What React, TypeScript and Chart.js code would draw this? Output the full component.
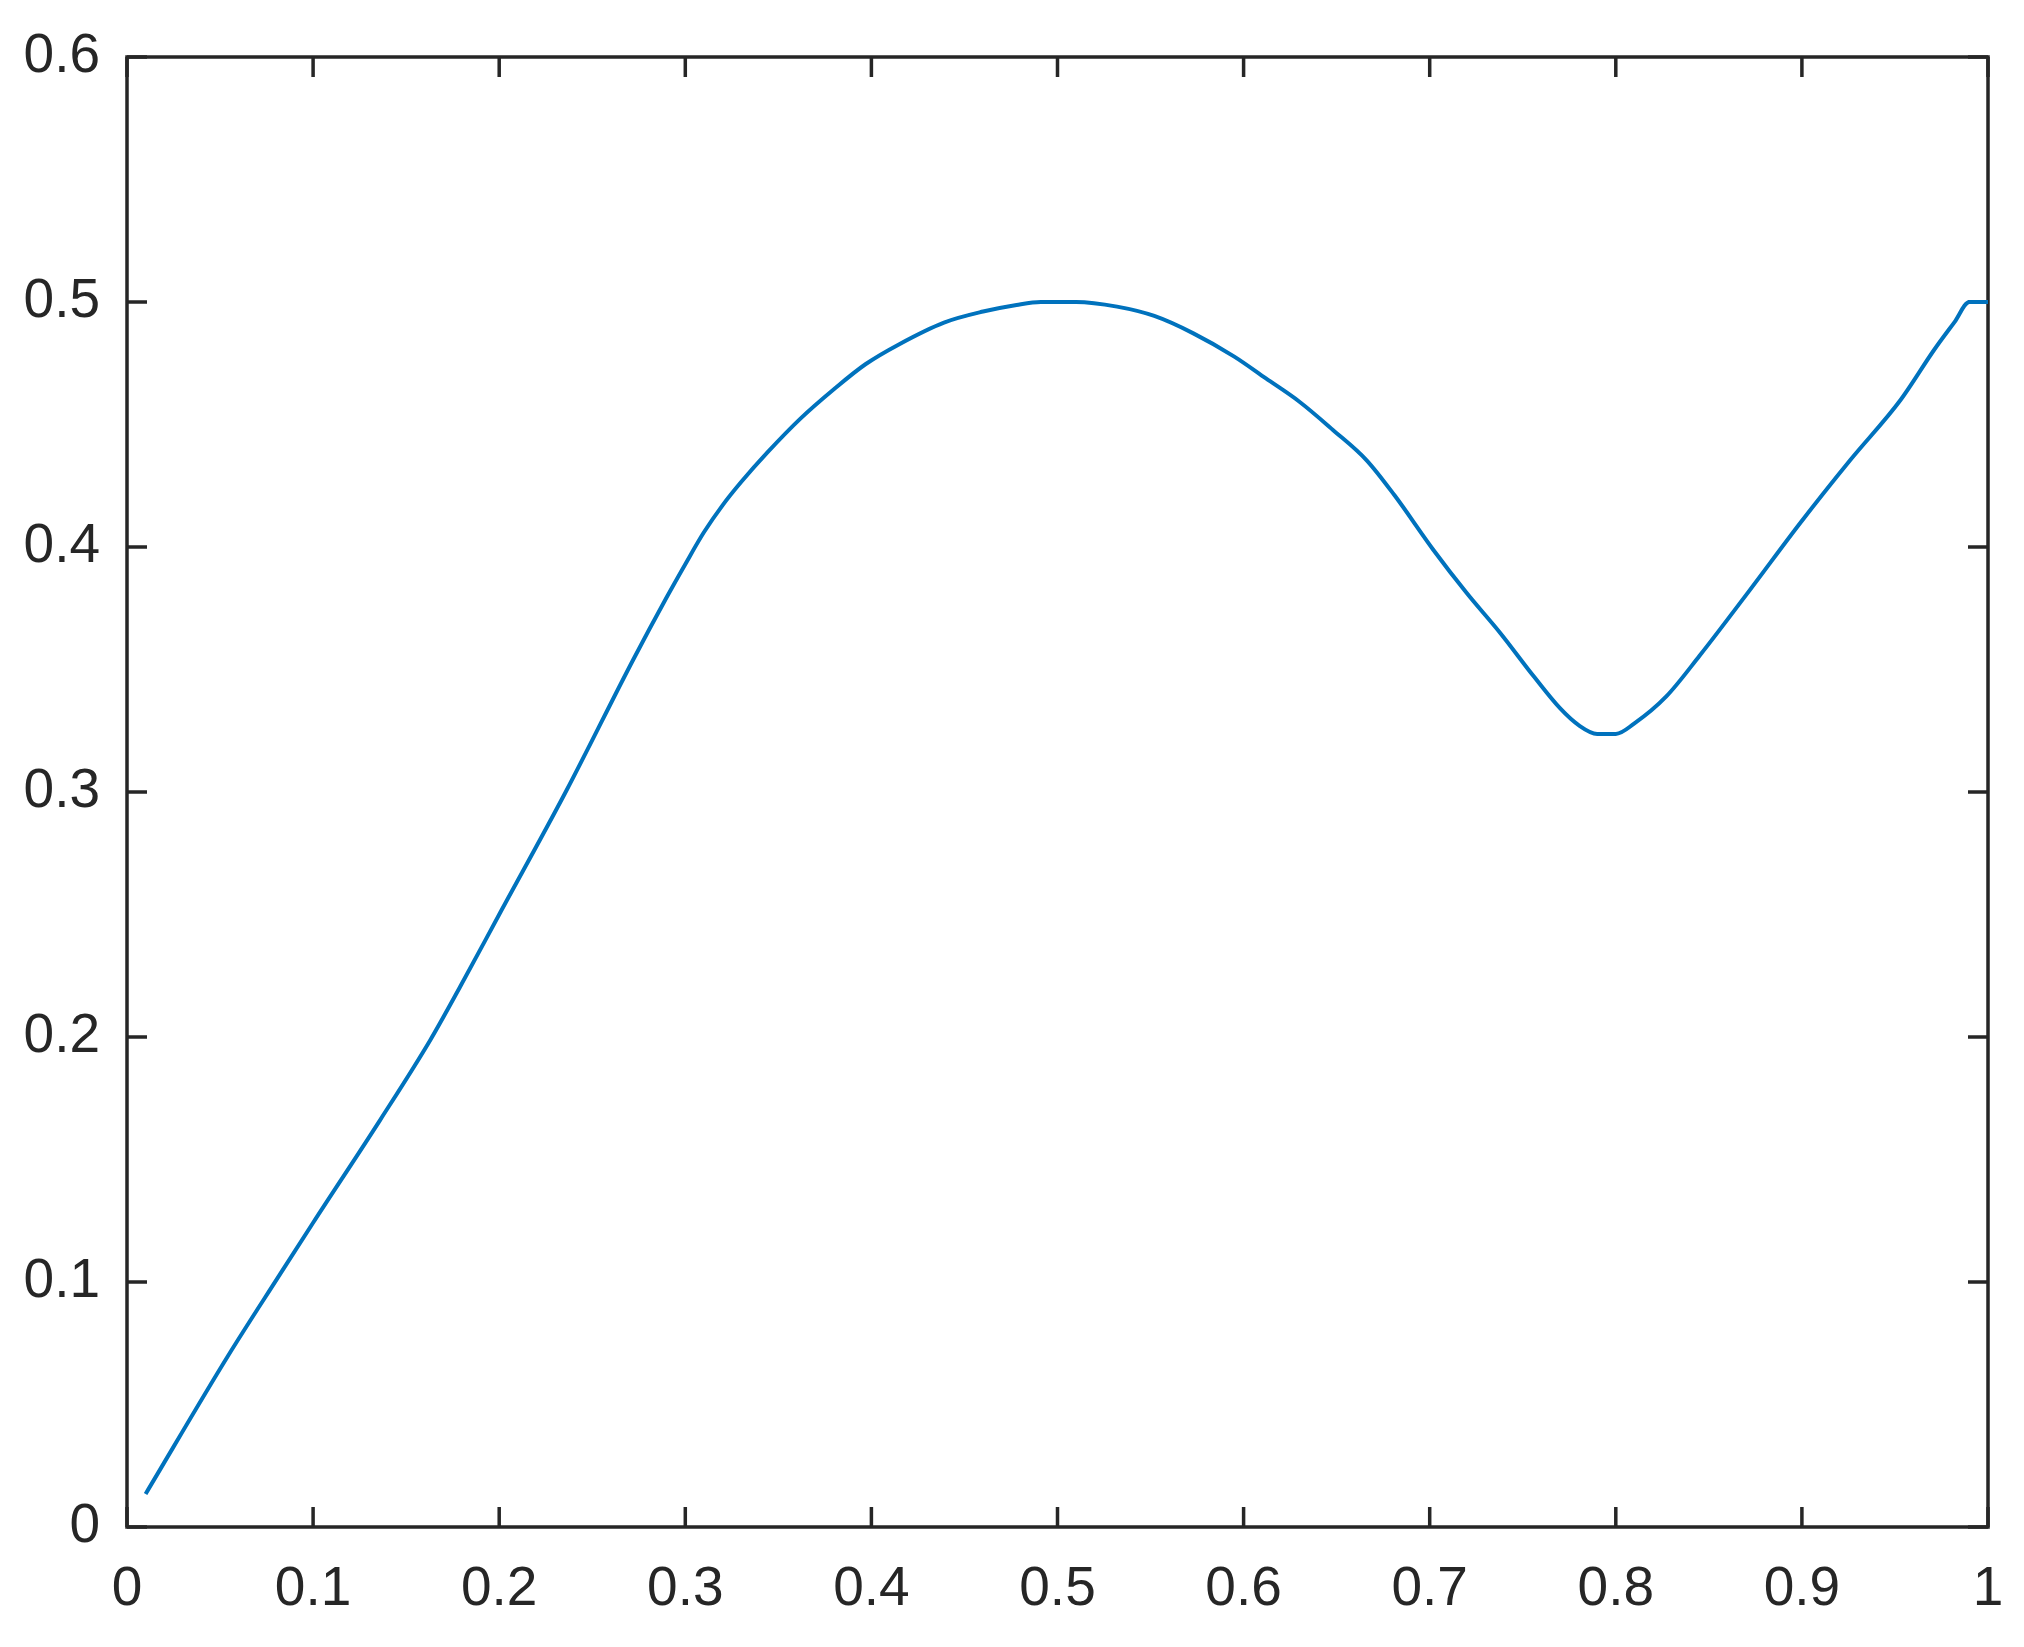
import React, { useEffect, useRef } from "react";
import { Chart, registerables } from "chart.js";

Chart.register(...registerables);

// Data
const xValues = [
  0.01, 0.054, 0.082, 0.1, 0.136, 0.163, 0.179, 0.2, 0.236, 0.272, 0.29, 0.3,
  0.31, 0.32, 0.33, 0.344, 0.362, 0.38, 0.397, 0.415, 0.439, 0.46, 0.478,
  0.491, 0.51, 0.532, 0.552, 0.573, 0.595, 0.612, 0.63, 0.648, 0.666, 0.681,
  0.702, 0.72, 0.738, 0.756, 0.77, 0.78, 0.79, 0.8, 0.81, 0.827, 0.845, 0.872,
  0.899, 0.926, 0.953, 0.971, 0.982, 0.99, 1.0,
];
const yValues = [
  0.0135, 0.0695, 0.1029, 0.1242, 0.1661, 0.1988, 0.2205, 0.25, 0.3004,
  0.354, 0.3795, 0.393, 0.406, 0.417, 0.4265, 0.4385, 0.4525, 0.4645, 0.4747,
  0.4828, 0.4916, 0.4961, 0.4988, 0.5, 0.5, 0.4981, 0.4943, 0.4872, 0.4777,
  0.4688, 0.4593, 0.4478, 0.4355, 0.4212, 0.3988, 0.3811, 0.3648, 0.3471,
  0.3342, 0.3273, 0.3237, 0.3237, 0.328, 0.3389, 0.3556, 0.3824, 0.4097,
  0.4355, 0.46, 0.4804, 0.4918, 0.5, 0.5,
];

const xAxisRange = [0, 1];
const yAxisRange = [0, 0.6];
const xTickStep = 0.1;
const yTickStep = 0.1;

const LINE_COLOR = "#0072BD";
const AXIS_COLOR = "#262626";
const FONT_FAMILY = "'Liberation Sans', Arial, Helvetica, sans-serif";

const framePlugin = {
  id: "matlabFrame",
  beforeDatasetsDraw(chart: any) {
    const { ctx, chartArea } = chart;
    const { left, right, top, bottom } = chartArea;
    const xs = chart.scales.x;
    const ys = chart.scales.y;
    const tickLen = 20;
    ctx.save();
    ctx.strokeStyle = AXIS_COLOR;
    ctx.lineWidth = 3.5;
    ctx.beginPath();
    xs.ticks.forEach((t: any) => {
      const px = xs.getPixelForValue(t.value);
      ctx.moveTo(px, bottom);
      ctx.lineTo(px, bottom - tickLen);
      ctx.moveTo(px, top);
      ctx.lineTo(px, top + tickLen);
    });
    ys.ticks.forEach((t: any) => {
      const py = ys.getPixelForValue(t.value);
      ctx.moveTo(left, py);
      ctx.lineTo(left + tickLen, py);
      ctx.moveTo(right, py);
      ctx.lineTo(right - tickLen, py);
    });
    ctx.stroke();
    ctx.lineJoin = "miter";
    ctx.strokeRect(left, top, right - left, bottom - top);
    ctx.restore();
  },
};

const fmt = (v: number) => String(Number(Number(v).toFixed(1)));

const clearPadding = (scale: any) => {
  scale.paddingLeft = 0;
  scale.paddingRight = 0;
  scale.paddingTop = 0;
  scale.paddingBottom = 0;
};

export default function App() {
  const canvasRef = useRef<HTMLCanvasElement | null>(null);

  useEffect(() => {
    document.body.style.margin = "0";
    const canvas = canvasRef.current;
    if (!canvas) return;
    const points = xValues.map((x, i) => ({ x, y: yValues[i] }));
    const chart = new Chart(canvas, {
      type: "line",
      data: {
        datasets: [
          {
            data: points,
            borderColor: LINE_COLOR,
            borderWidth: 4,
            pointRadius: 0,
            cubicInterpolationMode: "monotone",
            fill: false,
          },
        ],
      },
      options: {
        animation: false,
        responsive: false,
        devicePixelRatio: 1,
        layout: { padding: { top: 57, right: 36, left: 0, bottom: 0 } },
        plugins: {
          legend: { display: false },
          tooltip: { enabled: false },
          title: { display: false },
        },
        scales: {
          x: {
            type: "linear",
            min: xAxisRange[0],
            max: xAxisRange[1],
            grid: { display: false, drawTicks: false },
            border: { display: false },
            ticks: {
              stepSize: xTickStep,
              color: AXIS_COLOR,
              font: { family: FONT_FAMILY, size: 55 },
              padding: 30,
              maxRotation: 0,
              autoSkip: false,
              callback: (v: any) => fmt(v),
            },
            afterFit: (scale: any) => {
              scale.height = 120;
              clearPadding(scale);
            },
          },
          y: {
            type: "linear",
            min: yAxisRange[0],
            max: yAxisRange[1],
            grid: { display: false, drawTicks: false },
            border: { display: false },
            ticks: {
              stepSize: yTickStep,
              color: AXIS_COLOR,
              font: { family: FONT_FAMILY, size: 55 },
              padding: 27,
              autoSkip: false,
              callback: (v: any) => fmt(v),
            },
            afterFit: (scale: any) => {
              scale.width = 127;
              clearPadding(scale);
            },
          },
        },
      },
      plugins: [framePlugin],
    });
    return () => chart.destroy();
  }, []);

  return (
    <div style={{ width: 2024, height: 1647, background: "#ffffff" }}>
      <canvas
        ref={canvasRef}
        width={2024}
        height={1647}
        style={{ display: "block", width: 2024, height: 1647 }}
      />
    </div>
  );
}
